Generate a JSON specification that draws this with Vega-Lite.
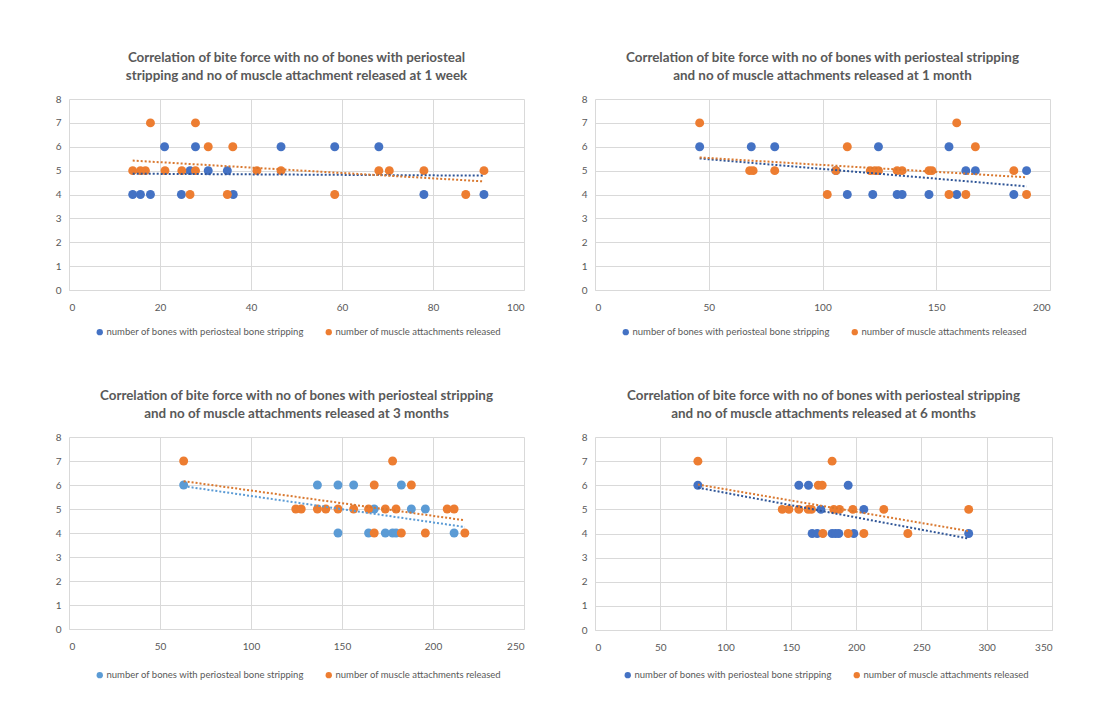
{
  "$schema": "https://vega.github.io/schema/vega-lite/v6.json",
  "background": "white",
  "padding": {"left": 55, "top": 50, "right": 10, "bottom": 5},
  "config": {
    "font": "Lato",
    "view": {"stroke": null},
    "axis": {"labelColor": "#595959", "labelFontSize": 10, "grid": true, "gridColor": "#D9D9D9", "ticks": false, "domain": false, "title": null, "labelPadding": 8, "labelOverlap": false},
    "axisX": {"domain": true, "domainColor": "#D9D9D9", "labelPadding": 12},
    "legend": {"orient": "none", "direction": "horizontal", "title": null, "labelFontSize": 9.5, "labelColor": "#595959", "symbolSize": 40, "symbolType": "circle", "columnPadding": 20, "labelOffset": 2, "symbolStrokeWidth": 0, "labelLimit": 300},
    "title": {"fontSize": 13.4, "fontWeight": "bold", "color": "#595959", "anchor": "middle", "offset": 12, "lineHeight": 18}
  },
  "datasets": {
    "p1": [
      {"s":"bones","x":14.0,"y":4},{"s":"bones","x":15.7,"y":4},{"s":"bones","x":17.9,"y":4},{"s":"bones","x":24.7,"y":4},{"s":"bones","x":36.1,"y":4},
      {"s":"bones","x":21.0,"y":6},{"s":"bones","x":27.8,"y":6},{"s":"bones","x":46.6,"y":6},{"s":"bones","x":58.4,"y":6},{"s":"bones","x":68.1,"y":6},
      {"s":"bones","x":26.6,"y":5},{"s":"bones","x":30.6,"y":5},{"s":"bones","x":34.8,"y":5},{"s":"bones","x":78.0,"y":4},{"s":"bones","x":91.2,"y":4},
      {"s":"muscle","x":17.9,"y":7},{"s":"muscle","x":27.8,"y":7},{"s":"muscle","x":30.6,"y":6},{"s":"muscle","x":36.0,"y":6},
      {"s":"muscle","x":14.0,"y":5},{"s":"muscle","x":15.7,"y":5},{"s":"muscle","x":16.8,"y":5},{"s":"muscle","x":21.1,"y":5},{"s":"muscle","x":24.8,"y":5},
      {"s":"muscle","x":27.8,"y":5},{"s":"muscle","x":41.3,"y":5},{"s":"muscle","x":46.6,"y":5},{"s":"muscle","x":68.1,"y":5},{"s":"muscle","x":70.4,"y":5},
      {"s":"muscle","x":78.0,"y":5},{"s":"muscle","x":91.2,"y":5},
      {"s":"muscle","x":26.6,"y":4},{"s":"muscle","x":34.8,"y":4},{"s":"muscle","x":58.4,"y":4},{"s":"muscle","x":87.2,"y":4}
    ],
    "t1": [
      {"s":"bones","x":14,"y":4.87},{"s":"bones","x":91.2,"y":4.79},
      {"s":"muscle","x":14,"y":5.42},{"s":"muscle","x":91.2,"y":4.55}
    ],
    "p2": [
      {"s":"bones","x":46,"y":6},{"s":"bones","x":68.7,"y":6},{"s":"bones","x":79,"y":6},{"s":"bones","x":124.6,"y":6},{"s":"bones","x":155.6,"y":6},
      {"s":"bones","x":105.9,"y":5},{"s":"bones","x":163,"y":5},{"s":"bones","x":167.2,"y":5},{"s":"bones","x":189.7,"y":5},
      {"s":"bones","x":110.9,"y":4},{"s":"bones","x":122.1,"y":4},{"s":"bones","x":132.8,"y":4},{"s":"bones","x":135,"y":4},{"s":"bones","x":146.8,"y":4},{"s":"bones","x":159,"y":4},{"s":"bones","x":184.1,"y":4},
      {"s":"muscle","x":46,"y":7},{"s":"muscle","x":159,"y":7},{"s":"muscle","x":110.9,"y":6},{"s":"muscle","x":167.2,"y":6},
      {"s":"muscle","x":68,"y":5},{"s":"muscle","x":69.5,"y":5},{"s":"muscle","x":79,"y":5},{"s":"muscle","x":105.9,"y":5},{"s":"muscle","x":121,"y":5},{"s":"muscle","x":123,"y":5},{"s":"muscle","x":124.6,"y":5},
      {"s":"muscle","x":132.8,"y":5},{"s":"muscle","x":135,"y":5},{"s":"muscle","x":146.8,"y":5},{"s":"muscle","x":148.1,"y":5},{"s":"muscle","x":184.1,"y":5},
      {"s":"muscle","x":102.1,"y":4},{"s":"muscle","x":155.6,"y":4},{"s":"muscle","x":163,"y":4},{"s":"muscle","x":189.7,"y":4}
    ],
    "t2": [
      {"s":"bones","x":46,"y":5.51},{"s":"bones","x":189.7,"y":4.34},
      {"s":"muscle","x":46,"y":5.55},{"s":"muscle","x":189.7,"y":4.72}
    ],
    "p3": [
      {"s":"bones","x":63,"y":6},{"s":"bones","x":136.5,"y":6},{"s":"bones","x":147.8,"y":6},{"s":"bones","x":156.4,"y":6},{"s":"bones","x":182.6,"y":6},
      {"s":"bones","x":167.7,"y":5},{"s":"bones","x":188.1,"y":5},{"s":"bones","x":195.8,"y":5},
      {"s":"bones","x":147.8,"y":4},{"s":"bones","x":164.6,"y":4},{"s":"bones","x":173.8,"y":4},{"s":"bones","x":177.8,"y":4},{"s":"bones","x":179.7,"y":4},{"s":"bones","x":211.6,"y":4},
      {"s":"muscle","x":63,"y":7},{"s":"muscle","x":177.8,"y":7},{"s":"muscle","x":167.7,"y":6},{"s":"muscle","x":188.1,"y":6},
      {"s":"muscle","x":124.6,"y":5},{"s":"muscle","x":127.6,"y":5},{"s":"muscle","x":136.5,"y":5},{"s":"muscle","x":141.1,"y":5},{"s":"muscle","x":147.8,"y":5},{"s":"muscle","x":156.4,"y":5},
      {"s":"muscle","x":164.6,"y":5},{"s":"muscle","x":173.8,"y":5},{"s":"muscle","x":179.7,"y":5},{"s":"muscle","x":207.8,"y":5},{"s":"muscle","x":211.6,"y":5},
      {"s":"muscle","x":167.7,"y":4},{"s":"muscle","x":182.6,"y":4},{"s":"muscle","x":195.8,"y":4},{"s":"muscle","x":217.5,"y":4}
    ],
    "t3": [
      {"s":"bones","x":63,"y":5.95},{"s":"bones","x":217.5,"y":4.25},
      {"s":"muscle","x":63,"y":6.16},{"s":"muscle","x":217.5,"y":4.53}
    ],
    "p4": [
      {"s":"bones","x":78.8,"y":6},{"s":"bones","x":156.1,"y":6},{"s":"bones","x":163.5,"y":6},{"s":"bones","x":193.9,"y":6},
      {"s":"bones","x":173,"y":5},{"s":"bones","x":205.9,"y":5},
      {"s":"bones","x":166.3,"y":4},{"s":"bones","x":170.2,"y":4},{"s":"bones","x":181.6,"y":4},{"s":"bones","x":184.2,"y":4},{"s":"bones","x":186.7,"y":4},{"s":"bones","x":198.2,"y":4},{"s":"bones","x":286.2,"y":4},
      {"s":"muscle","x":78.8,"y":7},{"s":"muscle","x":181.6,"y":7},{"s":"muscle","x":171,"y":6},{"s":"muscle","x":174,"y":6},
      {"s":"muscle","x":143.4,"y":5},{"s":"muscle","x":148.5,"y":5},{"s":"muscle","x":156.1,"y":5},{"s":"muscle","x":163.3,"y":5},{"s":"muscle","x":165.8,"y":5},
      {"s":"muscle","x":182.9,"y":5},{"s":"muscle","x":187.3,"y":5},{"s":"muscle","x":197.5,"y":5},{"s":"muscle","x":221.2,"y":5},{"s":"muscle","x":286.2,"y":5},
      {"s":"muscle","x":174.5,"y":4},{"s":"muscle","x":193.9,"y":4},{"s":"muscle","x":205.9,"y":4},{"s":"muscle","x":239.6,"y":4}
    ],
    "t4": [
      {"s":"bones","x":78.8,"y":5.9},{"s":"bones","x":286.2,"y":3.79},
      {"s":"muscle","x":78.8,"y":6.03},{"s":"muscle","x":286.2,"y":4.1}
    ]
  },
  "resolve": {"scale": {"color": "independent", "stroke": "independent"}, "legend": {"color": "independent"}},
  "spacing": 51,
  "vconcat": [
    {
      "spacing": 57,
      "resolve": {"scale": {"color": "independent", "stroke": "independent"}, "legend": {"color": "independent"}},
      "hconcat": [
        {
          "width": 455, "height": 191,
          "title": {"text": ["Correlation of bite force with no of bones with periosteal", "stripping and no of muscle attachment released at 1 week"]},
          "layer": [
            {"data": {"name": "p1"}, "mark": {"type": "point", "filled": true, "size": 80, "opacity": 1},
             "encoding": {
               "x": {"field": "x", "type": "quantitative", "scale": {"domain": [0, 100], "nice": false}, "axis": {"values": [0, 20, 40, 60, 80, 100]}},
               "y": {"field": "y", "type": "quantitative", "scale": {"domain": [0, 8], "nice": false}, "axis": {"values": [0, 1, 2, 3, 4, 5, 6, 7, 8], "labelOverlap": false}},
               "color": {"field": "s", "type": "nominal", "scale": {"domain": ["bones", "muscle"], "range": ["#4472C4", "#ED7D31"]},
                 "legend": {"legendX": 26, "legendY": 228,
                   "labelExpr": "datum.label == 'bones' ? 'number of bones with periosteal bone stripping' : 'number of muscle attachments released'"}}}},
            {"data": {"name": "t1"}, "mark": {"type": "line", "strokeDash": [2, 2], "strokeWidth": 2},
             "encoding": {
               "x": {"field": "x", "type": "quantitative", "axis": {"values": [0, 20, 40, 60, 80, 100]}},
               "y": {"field": "y", "type": "quantitative", "axis": {"values": [0, 1, 2, 3, 4, 5, 6, 7, 8], "labelOverlap": false}},
               "stroke": {"field": "s", "type": "nominal", "scale": {"domain": ["bones", "muscle"], "range": ["#2F5597", "#D9782F"]}, "legend": null}}}
          ]
        },
        {
          "width": 455, "height": 191,
          "title": {"text": ["Correlation of bite force with no of bones with periosteal stripping", "and no of muscle attachments released at 1 month"]},
          "layer": [
            {"data": {"name": "p2"}, "mark": {"type": "point", "filled": true, "size": 80, "opacity": 1},
             "encoding": {
               "x": {"field": "x", "type": "quantitative", "scale": {"domain": [0, 200], "nice": false}, "axis": {"values": [0, 50, 100, 150, 200]}},
               "y": {"field": "y", "type": "quantitative", "scale": {"domain": [0, 8], "nice": false}, "axis": {"values": [0, 1, 2, 3, 4, 5, 6, 7, 8], "labelOverlap": false}},
               "color": {"field": "s", "type": "nominal", "scale": {"domain": ["bones", "muscle"], "range": ["#4472C4", "#ED7D31"]},
                 "legend": {"legendX": 26, "legendY": 228,
                   "labelExpr": "datum.label == 'bones' ? 'number of bones with periosteal bone stripping' : 'number of muscle attachments released'"}}}},
            {"data": {"name": "t2"}, "mark": {"type": "line", "strokeDash": [2, 2], "strokeWidth": 2},
             "encoding": {
               "x": {"field": "x", "type": "quantitative", "axis": {"values": [0, 50, 100, 150, 200]}},
               "y": {"field": "y", "type": "quantitative", "axis": {"values": [0, 1, 2, 3, 4, 5, 6, 7, 8], "labelOverlap": false}},
               "stroke": {"field": "s", "type": "nominal", "scale": {"domain": ["bones", "muscle"], "range": ["#2F5597", "#D9782F"]}, "legend": null}}}
          ]
        }
      ]
    },
    {
      "spacing": 57,
      "resolve": {"scale": {"color": "independent", "stroke": "independent"}, "legend": {"color": "independent"}},
      "hconcat": [
        {
          "width": 455, "height": 192,
          "title": {"text": ["Correlation of bite force with no of bones with periosteal stripping", "and no of muscle attachments released at 3 months"]},
          "layer": [
            {"data": {"name": "p3"}, "mark": {"type": "point", "filled": true, "size": 80, "opacity": 1},
             "encoding": {
               "x": {"field": "x", "type": "quantitative", "scale": {"domain": [0, 250], "nice": false}, "axis": {"values": [0, 50, 100, 150, 200, 250]}},
               "y": {"field": "y", "type": "quantitative", "scale": {"domain": [0, 8], "nice": false}, "axis": {"values": [0, 1, 2, 3, 4, 5, 6, 7, 8], "labelOverlap": false}},
               "color": {"field": "s", "type": "nominal", "scale": {"domain": ["bones", "muscle"], "range": ["#5B9BD5", "#ED7D31"]},
                 "legend": {"legendX": 26, "legendY": 233,
                   "labelExpr": "datum.label == 'bones' ? 'number of bones with periosteal bone stripping' : 'number of muscle attachments released'"}}}},
            {"data": {"name": "t3"}, "mark": {"type": "line", "strokeDash": [2, 2], "strokeWidth": 2},
             "encoding": {
               "x": {"field": "x", "type": "quantitative", "axis": {"values": [0, 50, 100, 150, 200, 250]}},
               "y": {"field": "y", "type": "quantitative", "axis": {"values": [0, 1, 2, 3, 4, 5, 6, 7, 8], "labelOverlap": false}},
               "stroke": {"field": "s", "type": "nominal", "scale": {"domain": ["bones", "muscle"], "range": ["#5B9BD5", "#D9782F"]}, "legend": null}}}
          ]
        },
        {
          "width": 457, "height": 193,
          "title": {"text": ["Correlation of bite force with no of bones with periosteal stripping", "and no of muscle attachments released at 6 months"]},
          "layer": [
            {"data": {"name": "p4"}, "mark": {"type": "point", "filled": true, "size": 80, "opacity": 1},
             "encoding": {
               "x": {"field": "x", "type": "quantitative", "scale": {"domain": [0, 350], "nice": false}, "axis": {"values": [0, 50, 100, 150, 200, 250, 300, 350]}},
               "y": {"field": "y", "type": "quantitative", "scale": {"domain": [0, 8], "nice": false}, "axis": {"values": [0, 1, 2, 3, 4, 5, 6, 7, 8], "labelOverlap": false}},
               "color": {"field": "s", "type": "nominal", "scale": {"domain": ["bones", "muscle"], "range": ["#4472C4", "#ED7D31"]},
                 "legend": {"legendX": 28, "legendY": 233,
                   "labelExpr": "datum.label == 'bones' ? 'number of bones with periosteal bone stripping' : 'number of muscle attachments released'"}}}},
            {"data": {"name": "t4"}, "mark": {"type": "line", "strokeDash": [2, 2], "strokeWidth": 2},
             "encoding": {
               "x": {"field": "x", "type": "quantitative", "axis": {"values": [0, 50, 100, 150, 200, 250, 300, 350]}},
               "y": {"field": "y", "type": "quantitative", "axis": {"values": [0, 1, 2, 3, 4, 5, 6, 7, 8], "labelOverlap": false}},
               "stroke": {"field": "s", "type": "nominal", "scale": {"domain": ["bones", "muscle"], "range": ["#2F5597", "#D9782F"]}, "legend": null}}}
          ]
        }
      ]
    }
  ]
}
